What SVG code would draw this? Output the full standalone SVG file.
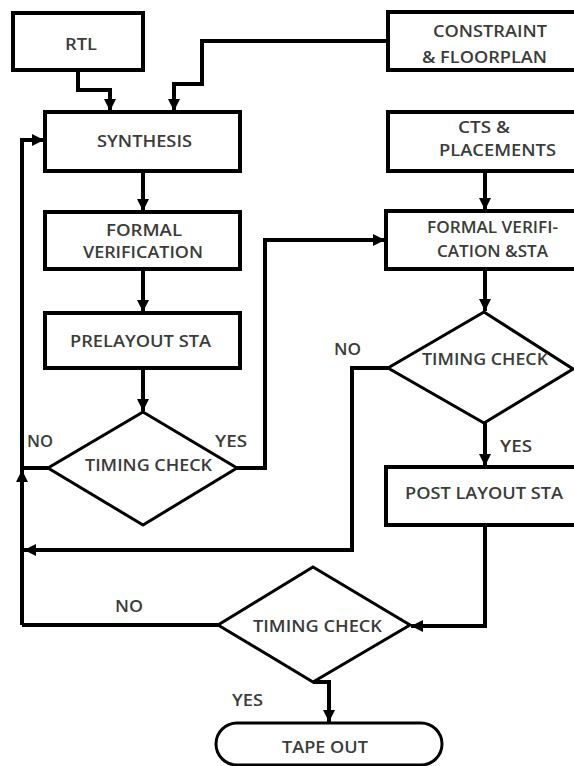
<svg xmlns="http://www.w3.org/2000/svg" width="574" height="766" viewBox="0 0 574 766">
<defs>
<marker id="ah" markerUnits="userSpaceOnUse" markerWidth="14" markerHeight="14" viewBox="0 0 14 14" refX="13" refY="7" orient="auto">
<path d="M1,1 L13,7 L1,13 Z" fill="#000"/>
</marker>
</defs>
<style>
.box{fill:#fff;stroke:#000;stroke-width:4}
.dia{fill:#fff;stroke:#000;stroke-width:3}
.ln{fill:none;stroke:#000;stroke-width:4;stroke-linejoin:miter}
.arr{marker-end:url(#ah)}
text{font-family:"Open Sans","Noto Sans","Liberation Sans",sans-serif;font-size:16px;font-weight:600;fill:#3a3d3a}
</style>
<rect width="574" height="766" fill="#fff"/>
<g id="connectors">
<path class="ln arr" d="M78,70 V90 H110 V111"/>
<path class="ln arr" d="M388,41 H202 V84 H174 V111"/>
<path class="ln arr" d="M22,625 V140 H44"/>
<path class="ln arr" d="M22,500 V470"/>
<path class="ln arr" d="M143,171 V211"/>
<path class="ln arr" d="M143,269 V312"/>
<path class="ln arr" d="M143,368 V411"/>
<path class="ln" d="M48,468 H22"/>
<path class="ln arr" d="M237,468 H265 V240 H385"/>
<path class="ln arr" d="M485,171 V210"/>
<path class="ln arr" d="M485,269 V311"/>
<path class="ln arr" d="M388,368 H352 V550 H24"/>
<path class="ln arr" d="M485,423 V466"/>
<path class="ln arr" d="M485,525 V626 H411"/>
<path class="ln" d="M218,625 H22"/>
<path class="ln arr" d="M313,682 H329 V722"/>
</g>
<g id="rtl"><rect class="box" x="13" y="13" width="130" height="57"/><text x="65" y="50" textLength="32" lengthAdjust="spacingAndGlyphs">RTL</text></g>
<g id="constraint"><rect class="box" x="388" y="12" width="200" height="58"/><text x="433" y="37" textLength="114" lengthAdjust="spacingAndGlyphs">CONSTRAINT</text><text x="422" y="63" textLength="125" lengthAdjust="spacingAndGlyphs">&amp; FLOORPLAN</text></g>
<g id="synthesis"><rect class="box" x="45" y="112" width="195" height="59"/><text x="97" y="147" textLength="95" lengthAdjust="spacingAndGlyphs">SYNTHESIS</text></g>
<g id="cts"><rect class="box" x="388" y="112" width="200" height="59"/><text x="458" y="133" textLength="52" lengthAdjust="spacingAndGlyphs">CTS &amp;</text><text x="439" y="156" textLength="117" lengthAdjust="spacingAndGlyphs">PLACEMENTS</text></g>
<g id="formal1"><rect class="box" x="45" y="212" width="195" height="57"/><text x="106" y="236" textLength="76" lengthAdjust="spacingAndGlyphs">FORMAL</text><text x="83" y="258" textLength="120" lengthAdjust="spacingAndGlyphs">VERIFICATION</text></g>
<g id="formal2"><rect class="box" x="386" y="211" width="200" height="58"/><text x="427" y="233" textLength="131" lengthAdjust="spacingAndGlyphs">FORMAL VERIFI-</text><text x="437" y="257" textLength="111" lengthAdjust="spacingAndGlyphs">CATION &amp;STA</text></g>
<g id="prelayout"><rect class="box" x="45" y="313" width="195" height="55"/><text x="70" y="347" textLength="141" lengthAdjust="spacingAndGlyphs">PRELAYOUT STA</text></g>
<g id="check2"><polygon class="dia" points="484,312 573,369 484,423 388,368"/><text x="422" y="365" textLength="126" lengthAdjust="spacingAndGlyphs">TIMING CHECK</text></g>
<g id="check1"><polygon class="dia" points="143,412 237,468 143,525 48,468"/><text x="85" y="471" textLength="127" lengthAdjust="spacingAndGlyphs">TIMING CHECK</text></g>
<g id="postlayout"><rect class="box" x="386" y="467" width="200" height="58"/><text x="405" y="499" textLength="158" lengthAdjust="spacingAndGlyphs">POST LAYOUT STA</text></g>
<g id="check3"><polygon class="dia" points="313,567 410,625 313,682 218,625"/><text x="253" y="632" textLength="129" lengthAdjust="spacingAndGlyphs">TIMING CHECK</text></g>
<g id="tapeout"><rect class="dia" x="216" y="723" width="226" height="42" rx="21"/><text x="282" y="753" textLength="86" lengthAdjust="spacingAndGlyphs">TAPE OUT</text></g>
<g id="labels">
<text x="27" y="447" textLength="26" lengthAdjust="spacingAndGlyphs">NO</text>
<text x="215" y="447" textLength="32" lengthAdjust="spacingAndGlyphs">YES</text>
<text x="334" y="355" textLength="27" lengthAdjust="spacingAndGlyphs">NO</text>
<text x="500" y="452" textLength="32" lengthAdjust="spacingAndGlyphs">YES</text>
<text x="115" y="612" textLength="28" lengthAdjust="spacingAndGlyphs">NO</text>
<text x="232" y="706" textLength="31" lengthAdjust="spacingAndGlyphs">YES</text>
</g>
</svg>
